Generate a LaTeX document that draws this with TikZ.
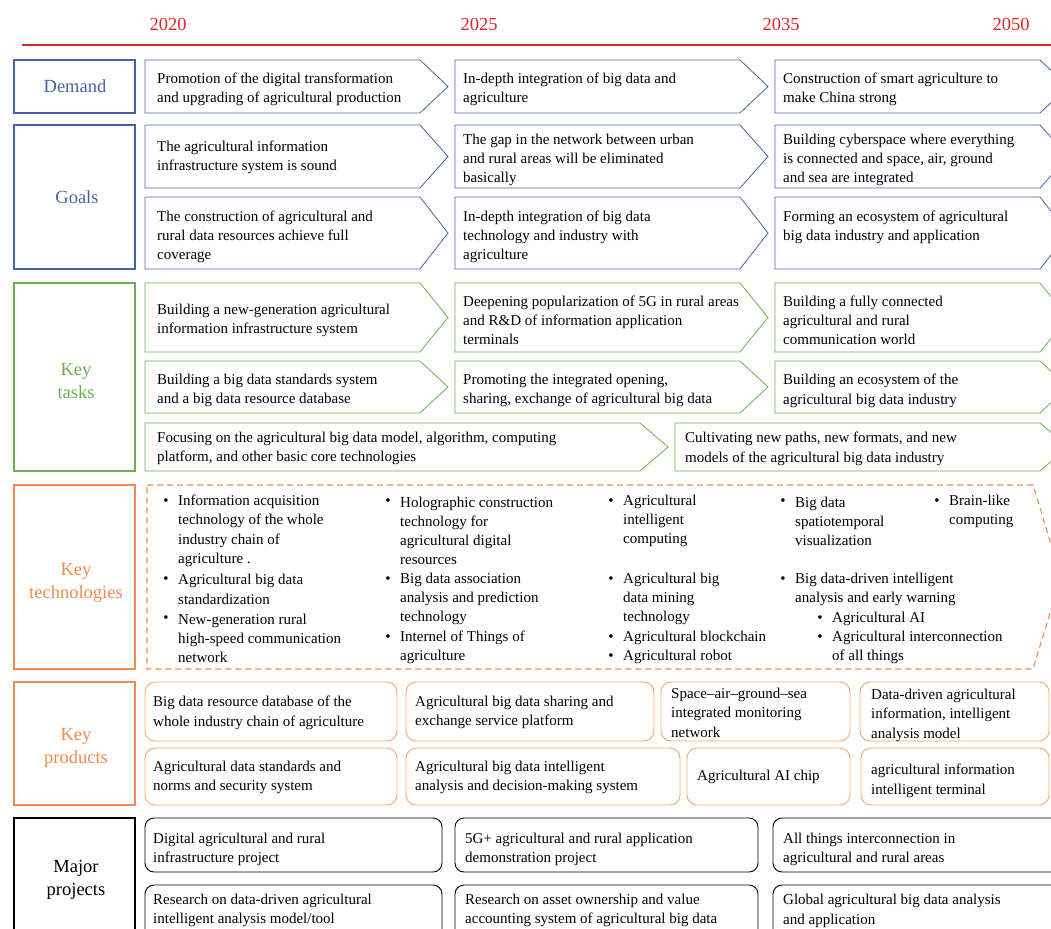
\documentclass[tikz,border=0pt]{standalone}
\usepackage{fontspec}
\setmainfont{Liberation Serif}
\usepackage{xcolor}

\definecolor{demblue}{RGB}{70,98,166}
\definecolor{taskgreen}{RGB}{106,176,78}
\definecolor{techorange}{RGB}{240,138,78}
\definecolor{prodorange}{RGB}{244,164,112}
\definecolor{yearred}{RGB}{222,40,40}

% chevron: style, left x, top y, body end x, bottom y
\newcommand{\chevron}[5]{\draw [#1] (#2,#3) -- (#4,#3) -- ({#4+28},{(#3+#5)/2}) -- (#4,#5) -- (#2,#5) -- cycle;}
% bullet item: name, bullet x, first line y, number of lines, text
\newcommand{\techitem}[5]{%
  \node [txt, anchor=center] (#1dot) at (#2,#3) {\textbullet};
  \node [txt] (#1) at ({#2+12},{#3+(#4-1)*9.65}) {#5};}

\begin{document}
\begin{tikzpicture}[x=1pt,y=-1pt]
\tikzstyle{every node}+=[inner sep=0pt]
\tikzset{
  txt/.style={anchor=west, align=left, yshift=-1.8pt, font=\fontsize{15}{19.2}\selectfont},
  head/.style={align=center, font=\fontsize{18.5}{23}\selectfont},
  year/.style={text=yearred, font=\fontsize{18.5}{22}\selectfont},
  rowbox/.style={line width=1.4pt},
  blueline/.style={draw=demblue, line width=0.8pt},
  greenline/.style={draw=taskgreen, line width=0.8pt},
  techline/.style={draw=techorange, line width=1.1pt, dash pattern=on 6pt off 4pt},
  prodbox/.style={draw=prodorange, line width=0.9pt, rounded corners=10pt},
  projbox/.style={draw=black, line width=0.9pt, rounded corners=9pt}
}
\clip (0,0) rectangle (1051,928);

% timeline
\node [year] (y2020) at (168,24) {2020};
\node [year] (y2025) at (479,24) {2025};
\node [year] (y2035) at (781,24) {2035};
\node [year] (y2050) at (1011,24) {2050};
\draw [yearred, line width=2.2pt] (22,45) -- (1060,45);

% row labels
\draw [rowbox, demblue] (14,60) rectangle (135,113);
\node [head, text=demblue] (demand) at (75,86) {Demand};
\draw [rowbox, demblue] (14,125) rectangle (135,269);
\node [head, text=demblue] (goals) at (77,197) {Goals};
\draw [rowbox, taskgreen] (14,283) rectangle (135,471);
\node [head, text=taskgreen] (tasks) at (76,381) {Key\\tasks};
\draw [rowbox, techorange] (14,485) rectangle (135,669);
\node [head, text=techorange] (techs) at (76,583) {Key\\technologies};
\draw [rowbox, techorange] (14,682) rectangle (135,805);
\node [head, text=techorange] (prods) at (76,748) {Key\\products};
\draw [rowbox, black] (14,818) rectangle (135,945);
\node [head] (projs) at (76,880) {Major\\projects};

% demand
\chevron{blueline}{145}{60}{420}{113}
\chevron{blueline}{455}{60}{740}{113}
\chevron{blueline}{775}{60}{1040}{113}
\node [txt] (dem1) at (157,87.5) {Promotion of the digital transformation\\and upgrading of agricultural production};
\node [txt] (dem2) at (463,87.5) {In-depth integration of big data and\\agriculture};
\node [txt] (dem3) at (783,87.5) {Construction of smart agriculture to\\make China strong};

% goals
\chevron{blueline}{145}{125}{420}{188}
\chevron{blueline}{455}{125}{740}{188}
\chevron{blueline}{775}{125}{1040}{188}
\chevron{blueline}{145}{197}{420}{269}
\chevron{blueline}{455}{197}{740}{269}
\chevron{blueline}{775}{197}{1040}{269}
\node [txt] (goal11) at (157,155.5) {The agricultural information\\infrastructure system is sound};
\node [txt] (goal12) at (463,158) {The gap in the network between urban\\and rural areas will be eliminated\\basically};
\node [txt] (goal13) at (783,158) {Building cyberspace where everything\\is connected and space, air, ground\\and sea are integrated};
\node [txt] (goal21) at (157,235) {The construction of agricultural and\\rural data resources achieve full\\coverage};
\node [txt] (goal22) at (463,235) {In-depth integration of big data\\technology and industry with\\agriculture};
\node [txt] (goal23) at (783,225.5) {Forming an ecosystem of agricultural\\big data industry and application};

% key tasks
\chevron{greenline}{145}{283}{420}{352}
\chevron{greenline}{455}{283}{740}{352}
\chevron{greenline}{775}{283}{1040}{352}
\chevron{greenline}{145}{361}{420}{413}
\chevron{greenline}{455}{361}{740}{413}
\chevron{greenline}{775}{361}{1040}{413}
\chevron{greenline}{145}{423}{640}{471}
\chevron{greenline}{675}{423}{1040}{471}
\node [txt] (task11) at (157,319) {Building a new-generation agricultural\\information infrastructure system};
\node [txt] (task12) at (463,318.5) {Deepening popularization of 5G in rural areas\\and R\&D of information application\\terminals};
\node [txt] (task13) at (783,318.5) {Building a fully connected\\agricultural and rural\\communication world};
\node [txt] (task21) at (157,389) {Building a big data standards system\\and a big data resource database};
\node [txt] (task22) at (463,389) {Promoting the integrated opening,\\sharing, exchange of agricultural big data};
\node [txt] (task23) at (783,389) {Building an ecosystem of the\\agricultural big data industry};
\node [txt] (task31) at (157,447) {Focusing on the agricultural big data model, algorithm, computing\\platform, and other basic core technologies};
\node [txt] (task32) at (685,447) {Cultivating new paths, new formats, and new\\models of the agricultural big data industry};

% key technologies
\draw [techline] (147,485) -- (1033,485) -- (1061,577) -- (1033,669) -- (147,669) -- cycle;
\techitem{techA}{166}{500}{4}{Information acquisition\\technology of the whole\\industry chain of\\agriculture .}
\techitem{techB}{166}{578}{2}{Agricultural big data\\standardization}
\techitem{techC}{166}{617}{3}{New-generation rural\\high-speed communication\\network}
\techitem{techD}{388}{500}{4}{Holographic construction\\technology for\\agricultural digital\\resources}
\techitem{techE}{388}{578}{3}{Big data association\\analysis and prediction\\technology}
\techitem{techF}{388}{636}{2}{Internel of Things of\\agriculture}
\techitem{techG}{611}{500}{3}{Agricultural\\intelligent\\computing}
\techitem{techH}{611}{578}{3}{Agricultural big\\data mining\\technology}
\techitem{techI}{611}{636}{1}{Agricultural blockchain}
\techitem{techJ}{611}{655}{1}{Agricultural robot}
\techitem{techK}{783}{500}{3}{Big data\\spatiotemporal\\visualization}
\techitem{techL}{783}{578}{2}{Big data-driven intelligent\\analysis and early warning}
\techitem{techM}{820}{617}{1}{Agricultural AI}
\techitem{techN}{820}{636}{2}{Agricultural interconnection\\of all things}
\techitem{techO}{937}{500}{2}{Brain-like\\computing}

% key products
\draw [prodbox] (145,682) rectangle (397,741);
\draw [prodbox] (406,682) rectangle (654,741);
\draw [prodbox] (661,682) rectangle (850,741);
\draw [prodbox] (860,682) rectangle (1049,741);
\draw [prodbox] (145,748) rectangle (397,805);
\draw [prodbox] (406,748) rectangle (680,805);
\draw [prodbox] (687,748) rectangle (850,805);
\draw [prodbox] (861,748) rectangle (1049,805);
\node [txt] (prod11) at (153,711) {Big data resource database of the\\whole industry chain of agriculture};
\node [txt] (prod12) at (415,711) {Agricultural big data sharing and\\exchange service platform};
\node [txt] (prod13) at (671,711) {Space--air--ground--sea\\integrated monitoring\\network};
\node [txt] (prod14) at (871,713.5) {Data-driven agricultural\\information, intelligent\\analysis model};
\node [txt] (prod21) at (153,776) {Agricultural data standards and\\norms and security system};
\node [txt] (prod22) at (415,776) {Agricultural big data intelligent\\analysis and decision-making system};
\node [txt] (prod23) at (697,775) {Agricultural AI chip};
\node [txt] (prod24) at (871,779) {agricultural information\\intelligent terminal};

% major projects
\draw [projbox] (145,818) rectangle (442,872);
\draw [projbox] (455,818) rectangle (758,872);
\draw [projbox] (773,818) rectangle (1070,872);
\draw [projbox] (145,885) rectangle (442,945);
\draw [projbox] (455,885) rectangle (758,945);
\draw [projbox] (773,885) rectangle (1070,945);
\node [txt] (proj11) at (153,847.5) {Digital agricultural and rural\\infrastructure project};
\node [txt] (proj12) at (465,847.5) {5G+ agricultural and rural application\\demonstration project};
\node [txt] (proj13) at (783,847.5) {All things interconnection in\\agricultural and rural areas};
\node [txt] (proj21) at (153,909) {Research on data-driven agricultural\\intelligent analysis model/tool};
\node [txt] (proj22) at (465,909) {Research on asset ownership and value\\accounting system of agricultural big data};
\node [txt] (proj23) at (783,909) {Global agricultural big data analysis\\and application};
\end{tikzpicture}
\end{document}
